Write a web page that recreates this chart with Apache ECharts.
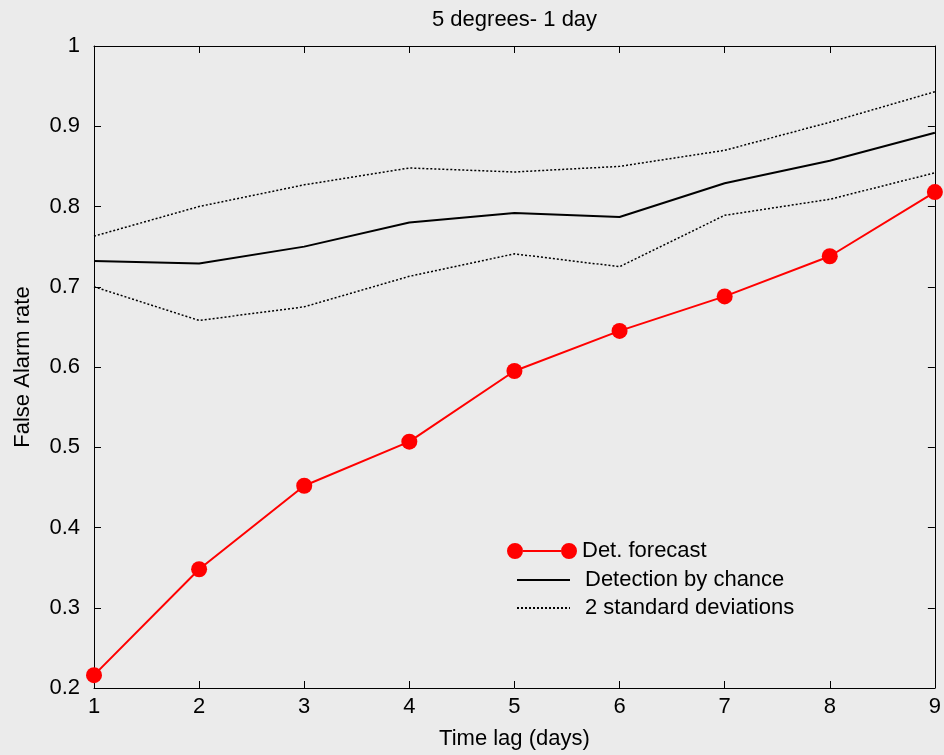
<!DOCTYPE html>
<html>
<head>
<meta charset="utf-8">
<script src="https://cdn.jsdelivr.net/npm/echarts@6/dist/echarts.min.js"></script>
<style>
html,body{margin:0;padding:0;background:#ebebeb;}
#chart{width:944px;height:755px;}
</style>
</head>
<body>
<div id="chart"></div>
<script>
var timeLag = [1, 2, 3, 4, 5, 6, 7, 8, 9];
var detForecast = [0.216, 0.348, 0.452, 0.507, 0.595, 0.645, 0.688, 0.738, 0.818];
var detectionByChance = [0.732, 0.729, 0.750, 0.780, 0.792, 0.787, 0.829, 0.857, 0.892];
var upperStd = [0.763, 0.800, 0.827, 0.848, 0.843, 0.850, 0.870, 0.905, 0.943];
var lowerStd = [0.700, 0.658, 0.675, 0.713, 0.741, 0.725, 0.789, 0.809, 0.842];

function pairs(ys) { return timeLag.map(function (x, i) { return [x, ys[i]]; }); }

var FONT = '"Liberation Sans", Arial, sans-serif';
var FS = 22;
var chart = echarts.init(document.getElementById('chart'));
var dotted = { color: '#000', width: 1.5, type: [2, 2] };
var axisLineStyle = { lineStyle: { color: '#000', width: 1 } };

chart.setOption({
  backgroundColor: '#ebebeb',
  animation: false,
  title: {
    text: '5 degrees- 1 day',
    left: 427, top: 4,
    textStyle: { fontFamily: FONT, fontSize: FS, fontWeight: 'normal', color: '#000' }
  },
  legend: [{
    data: [{ name: 'Det. forecast',
      icon: 'path://M0,8 A8,8 0 1,0 16,8 A8,8 0 1,0 0,8 Z M16,7 L54,7 L54,9 L16,9 Z M54,8 A8,8 0 1,0 70,8 A8,8 0 1,0 54,8 Z' }],
    orient: 'vertical', left: 507, top: 540, padding: 0,
    itemWidth: 70, itemHeight: 16, itemGap: 6,
    textStyle: { fontFamily: FONT, fontSize: FS, color: '#000', lineHeight: 22, padding: [0, 0, 0, 0] }
  }, {
    data: ['Detection by chance', '2 standard deviations'],
    orient: 'vertical', left: 516, top: 569, padding: 0,
    itemWidth: 53, itemHeight: 16, itemGap: 6,
    itemStyle: { color: 'rgba(0,0,0,0)', borderWidth: 0, opacity: 0 },
    textStyle: { fontFamily: FONT, fontSize: FS, color: '#000', lineHeight: 22, padding: [0, 0, 0, 10] }
  }],
  grid: { left: 94, right: 7, top: 46, bottom: 66 },
  xAxis: [{
    type: 'value', min: 1, max: 9, interval: 1, position: 'bottom',
    axisLine: axisLineStyle,
    axisTick: { inside: true, length: 7, lineStyle: { color: '#000' } },
    axisLabel: { fontFamily: FONT, fontSize: FS, color: '#000', margin: 8 },
    splitLine: { show: false },
    name: 'Time lag (days)', nameLocation: 'middle', nameGap: 40,
    nameTextStyle: { fontFamily: FONT, fontSize: FS, color: '#000' }
  }, {
    type: 'value', min: 1, max: 9, interval: 1, position: 'top',
    axisLine: axisLineStyle,
    axisTick: { inside: true, length: 7, lineStyle: { color: '#000' } },
    axisLabel: { show: false },
    splitLine: { show: false }
  }],
  yAxis: [{
    type: 'value', min: 0.2, max: 1, interval: 0.1, position: 'left',
    axisLine: { show: true, lineStyle: { color: '#000', width: 1 } },
    axisTick: { show: true, inside: true, length: 7, lineStyle: { color: '#000' } },
    axisLabel: { fontFamily: FONT, fontSize: FS, color: '#000', margin: 14 },
    splitLine: { show: false },
    name: 'False Alarm rate', nameLocation: 'middle', nameGap: 60,
    nameTextStyle: { fontFamily: FONT, fontSize: FS, color: '#000' }
  }, {
    type: 'value', min: 0.2, max: 1, interval: 0.1, position: 'right',
    axisLine: { show: true, lineStyle: { color: '#000', width: 1 } },
    axisTick: { show: true, inside: true, length: 7, lineStyle: { color: '#000' } },
    axisLabel: { show: false },
    splitLine: { show: false }
  }],
  series: [{
    name: 'Detection by chance', type: 'line', data: pairs(detectionByChance),
    symbol: 'none', lineStyle: { color: '#000', width: 2 }, itemStyle: { color: '#000' }, z: 2
  }, {
    name: '2 standard deviations', type: 'line', data: pairs(upperStd),
    symbol: 'none', lineStyle: dotted, itemStyle: { color: '#000' }, z: 2
  }, {
    name: '2 standard deviations', type: 'line', data: pairs(lowerStd),
    symbol: 'none', lineStyle: dotted, itemStyle: { color: '#000' }, z: 2
  }, {
    name: 'Det. forecast', type: 'line', data: pairs(detForecast),
    symbol: 'circle', symbolSize: 16, clip: false,
    lineStyle: { color: '#ff0000', width: 2 }, itemStyle: { color: '#ff0000' }, z: 3
  }]
});
</script>
</body>
</html>
